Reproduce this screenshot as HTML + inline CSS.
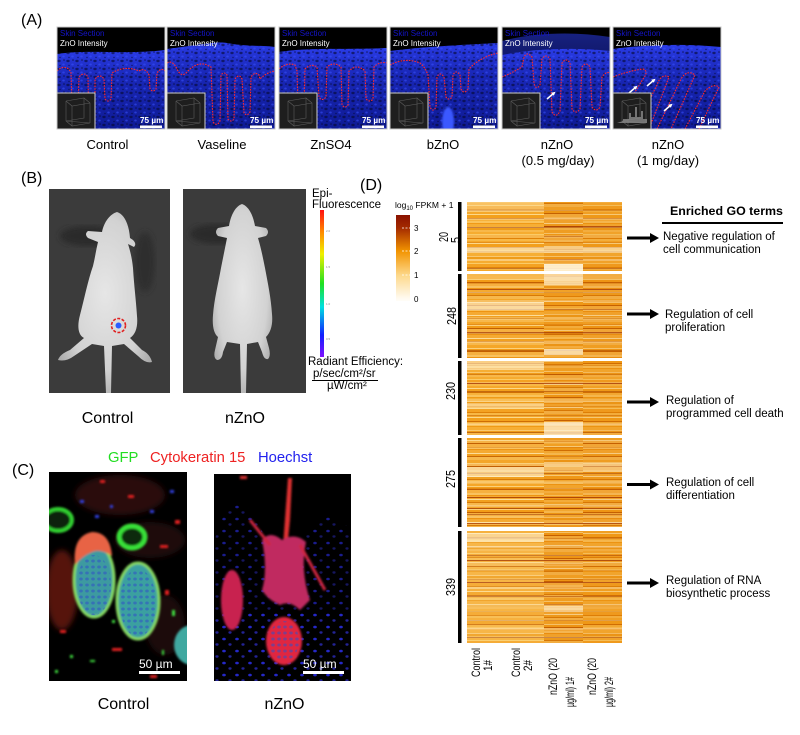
<!DOCTYPE html>
<html><head><meta charset="utf-8"><style>
html,body{margin:0;padding:0;background:#fff;}
svg{display:block;font-family:"Liberation Sans",Arial,sans-serif;}
</style></head><body>
<svg width="800" height="735" viewBox="0 0 800 735" xmlns="http://www.w3.org/2000/svg">
<defs>
 <linearGradient id="derm" x1="0" y1="0" x2="0" y2="1">
  <stop offset="0" stop-color="#2a3ce8"/>
  <stop offset="0.15" stop-color="#2232d0"/>
  <stop offset="0.4" stop-color="#1826b4"/>
  <stop offset="1" stop-color="#0e1a94"/>
 </linearGradient>
 <pattern id="nuc" width="9" height="8" patternUnits="userSpaceOnUse">
  <ellipse cx="2" cy="2" rx="1.7" ry="1.2" fill="#05082e" opacity="0.6"/>
  <ellipse cx="6.5" cy="5.5" rx="1.3" ry="1" fill="#3a52ff" opacity="0.55"/>
  <ellipse cx="7" cy="1" rx="1" ry="0.8" fill="#05082e" opacity="0.55"/>
  <ellipse cx="3" cy="6.5" rx="0.9" ry="0.7" fill="#04062a" opacity="0.5"/>
 </pattern>
 <pattern id="bnuc" width="13" height="12" patternUnits="userSpaceOnUse">
  <ellipse cx="3" cy="3" rx="1.8" ry="1.3" fill="#2a2ee8" opacity="0.8"/>
  <ellipse cx="9" cy="8.5" rx="1.6" ry="1.2" fill="#3030d0" opacity="0.6"/>
 </pattern>
 <pattern id="cellg" width="6" height="6" patternUnits="userSpaceOnUse">
  <ellipse cx="3" cy="3" rx="1.8" ry="1.5" fill="#3050c8" opacity="0.55"/>
 </pattern>
 <clipPath id="cA"><rect x="0" y="0" width="108" height="102"/></clipPath>
 <g id="inset">
  <rect x="0" y="0" width="38" height="36" fill="#1e1e1e" stroke="#d0d0d0" stroke-width="1"/>
  <path d="M9,8 L27,5 L33,10 L33,30 M9,8 L9,28 L33,30 M9,8 L15,13 L33,10 M15,13 L15,33 M9,28 L15,33 L33,30 M27,5 L27,25 L9,28" stroke="#5c5c5c" stroke-width="0.6" fill="none"/>
 </g>
 <g id="sb75">
  <text x="83" y="96" font-size="8.2" fill="#fff" font-weight="bold">75 µm</text>
  <rect x="83" y="98.5" width="22" height="2.5" fill="#fff"/>
 </g>
 <g id="hdr">
  <text x="3" y="9" font-size="8" fill="#1414c8">Skin Section</text>
  <text x="3" y="19" font-size="8" fill="#fff">ZnO Intensity</text>
 </g>
 <linearGradient id="rainbow" x1="0" y1="0" x2="0" y2="1">
  <stop offset="0" stop-color="#ff1010"/>
  <stop offset="0.15" stop-color="#ff8a00"/>
  <stop offset="0.3" stop-color="#f0f000"/>
  <stop offset="0.5" stop-color="#20e020"/>
  <stop offset="0.66" stop-color="#00e0e0"/>
  <stop offset="0.85" stop-color="#1020ff"/>
  <stop offset="1" stop-color="#8010ff"/>
 </linearGradient>
 <linearGradient id="heatbar" x1="0" y1="0" x2="0" y2="1">
  <stop offset="0" stop-color="#8a1200"/>
  <stop offset="0.15" stop-color="#a42a00"/>
  <stop offset="0.42" stop-color="#f29400"/>
  <stop offset="0.70" stop-color="#fdd88a"/>
  <stop offset="0.97" stop-color="#fffaf0"/>
  <stop offset="1" stop-color="#fffdf8"/>
 </linearGradient>
 <radialGradient id="mouse" cx="0.5" cy="0.45" r="0.6">
  <stop offset="0" stop-color="#e6e6e6"/>
  <stop offset="0.7" stop-color="#d2d2d2"/>
  <stop offset="1" stop-color="#ababab"/>
 </radialGradient>
 <pattern id="hA" width="160" height="29" patternUnits="userSpaceOnUse">
  <rect y="0" width="160" height="2" fill="#f6ac30"/>
  <rect y="2" width="160" height="1" fill="#fbcb66"/>
  <rect y="3" width="160" height="3" fill="#f4a222"/>
  <rect y="6" width="160" height="1" fill="#e08208"/>
  <rect y="7" width="160" height="2" fill="#f8b845"/>
  <rect y="9" width="160" height="2" fill="#f5a82a"/>
  <rect y="11" width="160" height="1" fill="#fcd88a"/>
  <rect y="12" width="160" height="3" fill="#f3a01c"/>
  <rect y="15" width="160" height="1" fill="#cf6e04"/>
  <rect y="16" width="160" height="2" fill="#f7b23a"/>
  <rect y="18" width="160" height="2" fill="#fac35a"/>
  <rect y="20" width="160" height="1" fill="#f09a16"/>
  <rect y="21" width="160" height="3" fill="#f6ae34"/>
  <rect y="24" width="160" height="1" fill="#f9c870"/>
  <rect y="25" width="160" height="2" fill="#ef9c1a"/>
  <rect y="27" width="160" height="2" fill="#f8b84a"/>
 </pattern>
 <pattern id="hD" width="160" height="23" patternUnits="userSpaceOnUse">
  <rect y="0" width="160" height="3" fill="#f4a628"/>
  <rect y="3" width="160" height="1" fill="#fbd07a"/>
  <rect y="4" width="160" height="2" fill="#f29c18"/>
  <rect y="6" width="160" height="1" fill="#c25f02"/>
  <rect y="7" width="160" height="3" fill="#f6b040"/>
  <rect y="10" width="160" height="2" fill="#f9c260"/>
  <rect y="12" width="160" height="1" fill="#ee9412"/>
  <rect y="13" width="160" height="3" fill="#f5aa32"/>
  <rect y="16" width="160" height="1" fill="#fcdc98"/>
  <rect y="17" width="160" height="2" fill="#f1a020"/>
  <rect y="19" width="160" height="1" fill="#d77a08"/>
  <rect y="20" width="160" height="3" fill="#f7b84c"/>
 </pattern>
 <pattern id="hB" width="160" height="41" patternUnits="userSpaceOnUse">
  <rect y="5" width="160" height="1" fill="#aa4600" opacity="0.35"/>
  <rect y="13" width="160" height="2" fill="#fff8e1" opacity="0.3"/>
  <rect y="22" width="160" height="1" fill="#8c2800" opacity="0.45"/>
  <rect y="30" width="160" height="3" fill="#fff2cd" opacity="0.25"/>
  <rect y="37" width="160" height="1" fill="#c86400" opacity="0.35"/>
 </pattern>
 <filter id="bl1"><feGaussianBlur stdDeviation="1"/></filter>
 <filter id="bl3"><feGaussianBlur stdDeviation="3"/></filter>
 <marker id="wa" markerWidth="4" markerHeight="4" refX="2" refY="2" orient="auto" markerUnits="userSpaceOnUse"><path d="M0,0 L4,2 L0,4Z" fill="#fff"/></marker>
</defs>

<!-- ============ PANEL A ============ -->
<text x="21" y="25" font-size="16" fill="#000">(A)</text>

<g transform="translate(57,27)" clip-path="url(#cA)">
 <rect width="108" height="102" fill="#000"/>
 <path d="M0,27 C30,22 70,28 108,23 L108,102 L0,102Z" fill="url(#derm)"/>
 <path d="M0,27 C30,22 70,28 108,23 L108,102 L0,102Z" fill="url(#nuc)"/>
 <path d="M0,44 C6,38 12,40 14,46 L15,78 Q18,84 21,78 L22,50 Q27,44 31,50 L32,102 M38,102 L38,52 Q43,46 47,52 L48,72 Q51,76 54,72 L55,46 Q68,38 82,44 Q88,40 92,48 L93,62 Q96,66 99,62 L100,46 Q104,40 108,44" fill="none" stroke="#ff2a2a" stroke-width="1.1" stroke-dasharray="1.6 1.2"/>
 <use href="#hdr"/>
 <use href="#inset" x="0" y="66"/>
 <use href="#sb75"/>
</g>
<g transform="translate(167,27)" clip-path="url(#cA)">
 <rect width="108" height="102" fill="#000"/>
 <path d="M0,22 C30,18 50,14 60,16 C80,20 100,18 108,20 L108,102 L0,102Z" fill="url(#derm)"/>
 <path d="M0,22 C30,18 50,14 60,16 C80,20 100,18 108,20 L108,102 L0,102Z" fill="url(#nuc)"/>
 <path d="M0,36 Q5,33 9,40 Q14,52 20,45 Q30,34 40,38 L44,40 L46,95 Q50,100 53,94 L54,48 Q57,44 60,48 L61,92 Q64,96 67,92 L68,52 Q72,46 75,52 L77,86 Q80,90 83,85 L84,50 Q88,44 92,48 L93,52 Q100,45 108,44" fill="none" stroke="#ff2a2a" stroke-width="1.1" stroke-dasharray="1.6 1.2"/>
 <use href="#hdr"/>
 <use href="#inset" x="0" y="66"/>
 <use href="#sb75"/>
</g>
<g transform="translate(279,27)" clip-path="url(#cA)">
 <rect width="108" height="102" fill="#000"/>
 <path d="M0,25 C30,20 70,23 108,21 L108,102 L0,102Z" fill="url(#derm)"/>
 <path d="M0,25 C30,20 70,23 108,21 L108,102 L0,102Z" fill="url(#nuc)"/>
 <path d="M0,42 Q8,35 16,38 L18,44 L19,78 Q22,82 25,78 L26,42 Q32,36 38,40 L40,70 Q43,75 47,70 L48,40 Q55,34 62,40 L63,78 Q66,82 69,78 L70,44 Q78,36 86,44 L87,72 Q91,76 94,72 L95,40 Q101,34 108,36" fill="none" stroke="#ff2a2a" stroke-width="1.1" stroke-dasharray="1.6 1.2"/>
 <use href="#hdr"/>
 <use href="#inset" x="0" y="66"/>
 <use href="#sb75"/>
</g>
<g transform="translate(390,27)" clip-path="url(#cA)">
 <rect width="108" height="102" fill="#000"/>
 <path d="M0,24 C30,20 70,18 108,16 L108,102 L0,102Z" fill="url(#derm)"/>
 <path d="M0,24 C30,20 70,18 108,16 L108,102 L0,102Z" fill="url(#nuc)"/>
 <ellipse cx="58" cy="95" rx="6" ry="15" fill="#3a58ff" filter="url(#bl1)"/>
 <path d="M0,38 Q15,30 30,36 Q35,40 38,48 L40,80 Q43,86 46,80 L47,50 Q50,44 54,50 L56,70 Q59,74 62,70 L63,48 Q66,42 70,48 L71,62 Q74,68 78,62 L79,42 Q90,30 108,26" fill="none" stroke="#ff2a2a" stroke-width="1.1" stroke-dasharray="1.6 1.2"/>
 <use href="#hdr"/>
 <use href="#inset" x="0" y="66"/>
 <use href="#sb75"/>
</g>
<g transform="translate(502,27)" clip-path="url(#cA)">
 <rect width="108" height="102" fill="#000"/>
 <path d="M0,14 C30,6 70,4 108,10 L108,102 L0,102Z" fill="url(#derm)" opacity="0.55"/>
 <path d="M0,28 C30,22 70,20 108,24 L108,102 L0,102Z" fill="url(#derm)"/>
 <path d="M0,28 C30,22 70,20 108,24 L108,102 L0,102Z" fill="url(#nuc)"/>
 <path d="M0,50 Q10,46 20,40 L22,30 Q25,24 30,30 L32,56 Q34,64 38,58 L40,32 Q44,26 48,32 L50,85 Q54,92 58,84 L60,36 Q64,30 68,36 L70,82 Q74,88 78,82 L80,40 Q84,34 88,40 L90,80 Q94,86 98,80 L100,50 Q104,44 108,46" fill="none" stroke="#ff2a2a" stroke-width="1.1" stroke-dasharray="1.6 1.2"/>
 <line x1="45" y1="72" x2="52" y2="66" stroke="#fff" stroke-width="1.5" marker-end="url(#wa)"/>
 <use href="#hdr"/>
 <use href="#inset" x="0" y="66"/>
 <use href="#sb75"/>
</g>
<g transform="translate(613,27)" clip-path="url(#cA)">
 <rect width="108" height="102" fill="#000"/>
 <path d="M0,22 C30,18 70,16 108,20 L108,102 L0,102Z" fill="url(#derm)"/>
 <path d="M0,22 C30,18 70,16 108,20 L108,102 L0,102Z" fill="url(#nuc)"/>
 <path d="M0,50 Q15,44 30,42 Q36,44 30,52 L14,78 M22,102 L44,58 Q48,46 56,50 L36,102 M44,102 L68,52 Q74,42 82,48 L58,102 M72,102 L92,64 Q100,56 106,60 L86,102" fill="none" stroke="#ff2a2a" stroke-width="1.1" stroke-dasharray="1.6 1.2"/>
 <line x1="16" y1="66" x2="23" y2="60" stroke="#fff" stroke-width="1.5" marker-end="url(#wa)"/>
 <line x1="34" y1="59" x2="41" y2="53" stroke="#fff" stroke-width="1.5" marker-end="url(#wa)"/>
 <line x1="51" y1="84" x2="58" y2="78" stroke="#fff" stroke-width="1.5" marker-end="url(#wa)"/>
 <use href="#hdr"/>
 <use href="#inset" x="0" y="66"/>
 <path d="M4,96 L34,96 L34,92 L30,92 L30,84 L28,84 L28,90 L24,90 L24,80 L22,80 L22,90 L18,90 L18,86 L16,86 L16,92 L10,92 L10,94 Z" fill="#8a8a8a" opacity="0.8"/>
 <use href="#sb75"/>
</g>
<g fill="none" stroke="#c8c8c8" stroke-width="1">
 <rect x="57" y="27" width="108" height="102"/>
 <rect x="167" y="27" width="108" height="102"/>
 <rect x="279" y="27" width="108" height="102"/>
 <rect x="390" y="27" width="108" height="102"/>
 <rect x="502" y="27" width="108" height="102"/>
 <rect x="613" y="27" width="108" height="102"/>
</g>
<g font-size="13" fill="#000" text-anchor="middle">
 <text x="107.5" y="149">Control</text>
 <text x="222" y="149">Vaseline</text>
 <text x="331" y="149">ZnSO4</text>
 <text x="443" y="149">bZnO</text>
 <text x="557" y="149">nZnO</text>
 <text x="558" y="165">(0.5 mg/day)</text>
 <text x="668" y="149">nZnO</text>
 <text x="668" y="165">(1 mg/day)</text>
</g>

<!-- ============ PANEL B ============ -->
<text x="21" y="183" font-size="16" fill="#000">(B)</text>
<rect x="49" y="189" width="121" height="204" fill="#3b3b3b"/>
<rect x="183" y="189" width="123" height="204" fill="#3b3b3b"/>
<ellipse cx="88" cy="236" rx="28" ry="10" fill="#2c2c2c" filter="url(#bl3)"/>
<ellipse cx="145" cy="262" rx="10" ry="30" fill="#2e2e2e" filter="url(#bl3)"/>
<ellipse cx="218" cy="234" rx="28" ry="10" fill="#2c2c2c" filter="url(#bl3)"/>
<path d="M117,212 C110,214 104,222 102,232 L88,231 Q84,234 88,238 L98,242 C96,250 95,258 93,266 C88,280 84,300 80,315 C77,326 78,335 84,338 L70,350 Q60,354 58,360 Q66,362 74,356 L92,344 L104,346 L106,393 L111,393 L112,346 L124,344 L138,356 Q146,364 152,362 Q150,354 142,350 L130,338 C136,334 138,326 137,316 C136,300 134,285 133,268 C132,258 130,250 128,244 L134,247 Q137,244 133,240 L130,238 C129,224 124,214 117,212 Z" fill="url(#mouse)"/>
<path d="M242,204 C236,206 231,214 229,226 L218,228 Q214,232 218,236 L227,238 C225,248 223,258 221,268 C218,285 214,300 213,315 C212,326 214,334 218,337 L215,350 Q213,358 217,360 Q222,360 223,352 L227,342 L240,344 L241,393 L246,393 L247,344 L258,342 L262,352 Q264,360 268,359 Q271,356 269,348 L266,337 C271,332 273,324 272,314 C271,298 268,284 265,268 C263,258 261,248 258,238 L266,236 Q270,232 266,228 L255,226 C253,214 248,206 242,204 Z" fill="url(#mouse)"/>
<circle cx="118.5" cy="325.5" r="3" fill="#2a5cff"/>
<circle cx="118.5" cy="325.5" r="7" fill="none" stroke="#e02020" stroke-width="1.6" stroke-dasharray="3 1.5"/>
<rect x="320" y="210" width="4" height="147" fill="url(#rainbow)"/>
<g fill="#888" font-size="3">
 <text x="326" y="232">2.0</text><text x="326" y="268">1.5</text><text x="326" y="305">1.0</text><text x="326" y="340">0.5</text>
</g>
<g font-size="11.5" fill="#000">
 <text x="312" y="197">Epi-</text>
 <text x="312" y="208">Fluorescence</text>
 <text x="308" y="365">Radiant Efficiency:</text>
 <text x="313" y="377">p/sec/cm²/sr</text>
 <text x="327" y="389">µW/cm²</text>
</g>
<rect x="312" y="380" width="66" height="1" fill="#000"/>
<g font-size="16" fill="#000" text-anchor="middle">
 <text x="107.5" y="423">Control</text>
 <text x="245" y="423">nZnO</text>
</g>

<!-- ============ PANEL C ============ -->
<text x="12" y="475" font-size="16" fill="#000">(C)</text>
<g font-size="14.8">
 <text x="108" y="462" fill="#22dd22">GFP</text>
 <text x="150" y="462" fill="#ee2222">Cytokeratin 15</text>
 <text x="258" y="462" fill="#2222ee">Hoechst</text>
</g>
<clipPath id="cC1"><rect x="49" y="472" width="138" height="209"/></clipPath>
<g clip-path="url(#cC1)">
 <rect x="49" y="472" width="138" height="209" fill="#000"/>
 <g filter="url(#bl3)">
  <ellipse cx="62" cy="590" rx="16" ry="40" fill="#6a1510" opacity="0.8"/>
  <ellipse cx="120" cy="495" rx="45" ry="20" fill="#3a1212" opacity="0.7"/>
  <ellipse cx="165" cy="625" rx="20" ry="30" fill="#3a1010" opacity="0.5"/>
  <ellipse cx="150" cy="540" rx="35" ry="18" fill="#301818" opacity="0.6"/>
 </g>
 <g filter="url(#bl1)">
  <ellipse cx="138" cy="601" rx="21" ry="38" fill="#3aa0a0" stroke="#86d860" stroke-width="3"/>
  <ellipse cx="94" cy="580" rx="20" ry="37" fill="#3d9aa0" stroke="#86dc60" stroke-width="3"/>
  <path d="M75,565 Q72,536 92,532 Q110,532 112,556 Q100,548 92,552 Q82,556 75,565Z" fill="#e86444"/>
  <ellipse cx="132" cy="537" rx="13" ry="11" fill="#0a2a0a" stroke="#38e038" stroke-width="5"/>
  <ellipse cx="58" cy="520" rx="14" ry="11" fill="#082008" stroke="#30d030" stroke-width="4"/>
  <ellipse cx="192" cy="645" rx="18" ry="20" fill="#40a8a0"/>
  <g fill="#e02020">
   <rect x="128" y="495" width="6" height="3"/><rect x="160" y="545" width="8" height="3"/>
   <rect x="165" y="590" width="4" height="5"/><rect x="112" y="648" width="10" height="3"/>
   <rect x="150" y="675" width="7" height="3"/><rect x="60" y="630" width="6" height="3"/>
   <rect x="100" y="480" width="5" height="3"/><rect x="175" y="520" width="5" height="4"/>
  </g>
  <g fill="#40e040">
   <rect x="70" y="655" width="3" height="3"/><rect x="90" y="660" width="5" height="2"/>
   <rect x="112" y="620" width="3" height="3"/><rect x="172" y="610" width="3" height="6"/>
   <rect x="162" y="650" width="2" height="5"/><rect x="55" y="670" width="3" height="3"/>
  </g>
  <g fill="#3040e0">
   <rect x="80" y="500" width="4" height="3"/><rect x="95" y="515" width="4" height="3"/>
   <rect x="150" y="510" width="4" height="3"/><rect x="170" y="490" width="4" height="3"/>
   <rect x="110" y="505" width="3" height="3"/>
  </g>
 </g>
 <ellipse cx="138" cy="603" rx="18" ry="34" fill="url(#cellg)"/>
 <ellipse cx="94" cy="585" rx="17" ry="30" fill="url(#cellg)"/>
 <text x="139" y="668" font-size="12" fill="#fff">50 µm</text>
 <rect x="139" y="671" width="41" height="3" fill="#fff"/>
</g>
<clipPath id="cC2"><rect x="214" y="474" width="137" height="207"/></clipPath>
<g clip-path="url(#cC2)">
 <rect x="214" y="474" width="137" height="207" fill="#000"/>
 <path d="M214,545 Q220,510 238,505 Q252,505 258,522 L266,540 L300,540 Q310,522 325,515 Q340,522 351,528 L351,681 L214,681Z" fill="url(#bnuc)" opacity="0.75"/>
 <path d="M214,610 L351,610 L351,681 L214,681Z" fill="url(#bnuc)" opacity="0.8"/>
 <g filter="url(#bl1)">
  <path d="M288,478 L292,478 L290,520 L286,560 L282,560 Z" fill="#e03030"/>
  <path d="M262,540 Q270,530 282,540 Q295,532 306,542 Q300,570 310,600 L300,610 Q290,600 280,605 Q268,600 262,590 Q268,570 262,540Z" fill="#c02a60"/>
  <path d="M250,520 L270,545 M300,545 L325,590" stroke="#d02840" stroke-width="3" fill="none"/>
  <ellipse cx="284" cy="641" rx="18" ry="24" fill="#e02840"/>
  <ellipse cx="232" cy="600" rx="11" ry="30" fill="#c82050"/>
  <rect x="240" y="476" width="7" height="3" fill="#e03030"/>
 </g>
 <ellipse cx="284" cy="641" rx="15" ry="20" fill="url(#cellg)"/>
 <text x="303" y="668" font-size="12" fill="#fff">50 µm</text>
 <rect x="303" y="671" width="41" height="3" fill="#fff"/>
</g>
<g font-size="16" fill="#000" text-anchor="middle">
 <text x="123.5" y="709">Control</text>
 <text x="284.5" y="709">nZnO</text>
</g>

<!-- ============ PANEL D ============ -->
<text x="360" y="190" font-size="16" fill="#000">(D)</text>
<text x="395" y="208" font-size="8.5" fill="#000">log<tspan font-size="6" dy="2">10</tspan><tspan dy="-2"> FPKM + 1</tspan></text>
<rect x="396" y="215" width="14" height="86" fill="url(#heatbar)"/>
<g stroke="#fff" stroke-width="0.8" stroke-dasharray="2 1.5">
 <line x1="402" y1="228" x2="410" y2="228"/>
 <line x1="402" y1="251" x2="410" y2="251"/>
 <line x1="402" y1="275" x2="410" y2="275"/>
</g>
<g font-size="8" fill="#000">
 <text x="414" y="231">3</text>
 <text x="414" y="254">2</text>
 <text x="414" y="278">1</text>
 <text x="414" y="302">0</text>
</g>

<g>
 <rect x="467" y="202" width="77" height="69" fill="url(#hA)"/>
 <rect x="544" y="202" width="39" height="69" fill="url(#hD)"/>
 <rect x="583" y="202" width="39" height="69" fill="url(#hA)"/>
 <rect x="467" y="274" width="77" height="84" fill="url(#hD)"/>
 <rect x="544" y="274" width="39" height="84" fill="url(#hA)"/>
 <rect x="583" y="274" width="39" height="84" fill="url(#hD)"/>
 <rect x="467" y="361" width="77" height="74" fill="url(#hA)"/>
 <rect x="544" y="361" width="39" height="74" fill="url(#hD)"/>
 <rect x="583" y="361" width="39" height="74" fill="url(#hA)"/>
 <rect x="467" y="438" width="77" height="89" fill="url(#hD)"/>
 <rect x="544" y="438" width="39" height="89" fill="url(#hA)"/>
 <rect x="583" y="438" width="39" height="89" fill="url(#hD)"/>
 <rect x="467" y="531" width="77" height="112" fill="url(#hA)"/>
 <rect x="544" y="531" width="39" height="112" fill="url(#hD)"/>
 <rect x="583" y="531" width="39" height="112" fill="url(#hA)"/>
 <rect x="467" y="202" width="155" height="69" fill="url(#hB)"/>
 <rect x="467" y="274" width="155" height="84" fill="url(#hB)"/>
 <rect x="467" y="361" width="155" height="74" fill="url(#hB)"/>
 <rect x="467" y="438" width="155" height="89" fill="url(#hB)"/>
 <rect x="467" y="531" width="155" height="112" fill="url(#hB)"/>
 <g fill="#d86a00" opacity="0.14">
  <rect x="544" y="202" width="78" height="69"/>
  <rect x="544" y="274" width="78" height="84"/>
  <rect x="544" y="361" width="78" height="74"/>
  <rect x="544" y="438" width="78" height="89"/>
  <rect x="544" y="531" width="78" height="112"/>
 </g>
 <g fill="#fff5dc">
  <rect x="467" y="202" width="77" height="10" opacity="0.3"/>
  <rect x="467" y="247" width="155" height="6" opacity="0.55"/>
  <rect x="544" y="264" width="39" height="7" opacity="0.9"/>
  <rect x="544" y="274" width="39" height="11" opacity="0.65"/>
  <rect x="467" y="302" width="77" height="8" opacity="0.6"/>
  <rect x="544" y="349" width="39" height="6" opacity="0.7"/>
  <rect x="467" y="361" width="77" height="9" opacity="0.55"/>
  <rect x="467" y="403" width="77" height="6" opacity="0.4"/>
  <rect x="544" y="422" width="39" height="13" opacity="0.7"/>
  <rect x="467" y="467" width="77" height="10" opacity="0.55"/>
  <rect x="544" y="462" width="78" height="10" opacity="0.35"/>
  <rect x="467" y="531" width="77" height="112" opacity="0.12"/>
  <rect x="467" y="533" width="77" height="9" opacity="0.55"/>
  <rect x="544" y="606" width="39" height="6" opacity="0.55"/>
 </g>
 <g fill="#a03000" opacity="0.7">
  <rect x="544" y="226" width="78" height="1"/>
  <rect x="467" y="289" width="155" height="1"/>
  <rect x="467" y="332" width="155" height="1"/>
  <rect x="467" y="383" width="155" height="1"/>
  <rect x="467" y="497" width="155" height="1"/>
  <rect x="467" y="508" width="155" height="1"/>
  <rect x="467" y="523" width="155" height="1"/>
  <rect x="467" y="560" width="155" height="1"/>
  <rect x="467" y="582" width="155" height="1"/>
 </g>
</g>
<g fill="#000">
 <rect x="458" y="202" width="3.5" height="69"/>
 <rect x="458" y="274" width="3.5" height="84"/>
 <rect x="458" y="361" width="3.5" height="74"/>
 <rect x="458" y="438" width="3.5" height="89"/>
 <rect x="458" y="531" width="3.5" height="112"/>
</g>
<g font-size="13" fill="#000" text-anchor="middle">
 <text transform="translate(448,237) rotate(-90)" textLength="10" lengthAdjust="spacingAndGlyphs">20</text>
 <text transform="translate(460,240) rotate(-90)" textLength="6" lengthAdjust="spacingAndGlyphs">5</text>
 <text transform="translate(456,316) rotate(-90)" textLength="18" lengthAdjust="spacingAndGlyphs">248</text>
 <text transform="translate(455,391) rotate(-90)" textLength="18" lengthAdjust="spacingAndGlyphs">230</text>
 <text transform="translate(455,479) rotate(-90)" textLength="18" lengthAdjust="spacingAndGlyphs">275</text>
 <text transform="translate(455,587) rotate(-90)" textLength="18" lengthAdjust="spacingAndGlyphs">339</text>
</g>
<g font-size="12" fill="#000">
 <text transform="translate(480,677) rotate(-90)" textLength="29" lengthAdjust="spacingAndGlyphs">Control</text>
 <text transform="translate(492,671) rotate(-90)" textLength="11" lengthAdjust="spacingAndGlyphs">1#</text>
 <text transform="translate(520,677) rotate(-90)" textLength="29" lengthAdjust="spacingAndGlyphs">Control</text>
 <text transform="translate(532,671) rotate(-90)" textLength="11" lengthAdjust="spacingAndGlyphs">2#</text>
 <text transform="translate(557,695) rotate(-90)" textLength="37" lengthAdjust="spacingAndGlyphs">nZnO (20</text>
 <text transform="translate(574,707) rotate(-90)" textLength="30" lengthAdjust="spacingAndGlyphs">µg/ml) 1#</text>
 <text transform="translate(596,695) rotate(-90)" textLength="37" lengthAdjust="spacingAndGlyphs">nZnO (20</text>
 <text transform="translate(613,707) rotate(-90)" textLength="30" lengthAdjust="spacingAndGlyphs">µg/ml) 2#</text>
</g>
<text x="670" y="215" font-size="12.4" font-weight="bold" fill="#000">Enriched GO terms</text>
<rect x="662" y="222" width="121" height="2" fill="#000"/>
<g fill="#000">
 <rect x="627" y="236.5" width="24" height="3"/><path d="M650,233 L659,238 L650,243Z"/>
 <rect x="627" y="312.5" width="24" height="3"/><path d="M650,309 L659,314 L650,319Z"/>
 <rect x="627" y="400.5" width="24" height="3"/><path d="M650,397 L659,402 L650,407Z"/>
 <rect x="627" y="483" width="24" height="3"/><path d="M650,479.5 L659,484.5 L650,489.5Z"/>
 <rect x="627" y="581.5" width="24" height="3"/><path d="M650,578 L659,583 L650,588Z"/>
</g>
<g font-size="11.5" fill="#000">
 <text x="663" y="240">Negative regulation of</text>
 <text x="663" y="253">cell communication</text>
 <text x="665" y="318">Regulation of cell</text>
 <text x="665" y="331">proliferation</text>
 <text x="666" y="404">Regulation of</text>
 <text x="666" y="417">programmed cell death</text>
 <text x="666" y="486">Regulation of cell</text>
 <text x="666" y="499">differentiation</text>
 <text x="666" y="584">Regulation of RNA</text>
 <text x="666" y="597">biosynthetic process</text>
</g>
</svg>
</body></html>
